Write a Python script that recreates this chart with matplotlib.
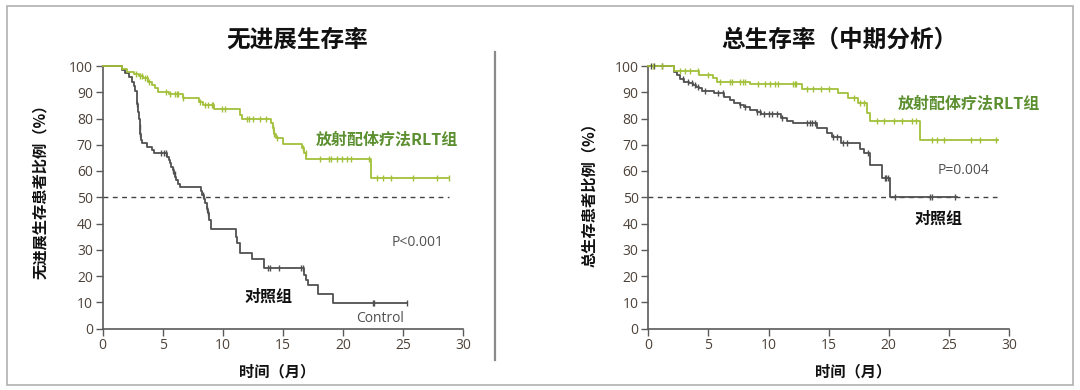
import numpy as np
import matplotlib
matplotlib.use("Agg")
import matplotlib.pyplot as plt
from matplotlib.patches import Rectangle
from matplotlib.lines import Line2D

# ---------------- data ----------------
# Progression-free survival (left)
pfs_rlt_t = [0, 1.6, 2.0, 2.6, 3.0, 3.4, 3.8, 4.1, 4.4, 4.65, 5.5, 6.7, 8.0, 8.4, 9.3,
             11.4, 11.6, 14.0, 14.15, 14.3, 14.45, 15.0, 16.6, 16.75, 16.95, 22.35]
pfs_rlt_s = [100, 98.8, 97.9, 97.0, 96.2, 95.3, 94.0, 92.8, 91.5, 90.2, 89.3, 87.9, 86.4, 85.1, 83.5,
             81.3, 79.8, 78.4, 76.3, 74.2, 72.6, 70.4, 68.7, 66.8, 64.6, 57.2]
pfs_rlt_end = 28.8
pfs_rlt_cens = [2.8, 3.1, 3.3, 3.5, 3.7, 3.9, 5.3, 5.6, 6.0, 6.2, 6.3, 6.7, 8.1, 8.5, 8.8, 9.1, 9.2,
                9.9, 10.2, 12.0, 12.2, 12.5, 13.1, 13.6, 14.2, 14.3, 14.5, 16.7, 16.9,
                18.1, 18.8, 19.0, 19.5, 19.9, 20.3, 20.7, 22.2, 22.8, 23.3, 24.0, 25.8, 27.8, 28.8]

pfs_ctl_t = [0, 1.6, 1.9, 2.2, 2.45, 2.6, 2.72, 2.84, 2.9, 2.96, 3.02, 3.08, 3.14, 3.2, 3.28,
             3.7, 4.1, 4.25, 5.35, 5.5, 5.6, 5.72, 5.85, 5.95, 6.05, 6.15, 6.3, 6.45,
             8.2, 8.3, 8.45, 8.55, 8.65, 8.75, 8.85, 9.0, 11.1, 11.2, 11.4, 12.46, 13.46,
             16.8, 16.95, 17.1, 17.9, 19.2]
pfs_ctl_s = [100, 98.5, 97.2, 95.8, 94.0, 92.2, 90.4, 88.3, 85.5, 82.6, 79.8, 76.9, 74.0, 71.9, 70.5,
             69.3, 68.0, 66.7, 65.4, 64.1, 62.9, 61.6, 60.3, 59.0, 57.8, 56.6, 55.2, 53.8,
             52.5, 50.9, 49.3, 47.7, 45.6, 43.9, 41.3, 37.9, 35.0, 32.4, 28.6, 26.5, 22.9,
             20.4, 18.5, 16.6, 13.1, 9.6]
pfs_ctl_end = 25.35
pfs_ctl_cens = [2.9, 3.1, 3.15, 4.9, 5.1, 5.25, 5.9, 6.0, 8.4, 8.7, 8.8,
                13.8, 13.9, 14.7, 16.5, 16.7, 22.5, 22.6, 25.35]

# Overall survival (right)
os_rlt_t = [0, 2.1, 4.2, 5.4, 5.7, 8.45, 12.75, 15.75, 16.6, 17.4, 18.15, 18.4, 22.6]
os_rlt_s = [100, 98.1, 96.6, 95.3, 94.0, 93.0, 91.2, 89.6, 87.7, 85.8, 82.0, 79.0, 71.8]
os_rlt_end = 29.1
os_rlt_cens = [0.4, 1.1, 2.6, 3.05, 3.5, 4.15, 5.0, 6.0, 6.8, 6.95, 7.6, 7.9, 8.05,
               9.15, 9.7, 10.1, 10.5, 10.8, 12.05, 12.2, 12.3, 13.2, 13.7, 14.4, 15.0,
               17.1, 17.6, 17.9, 19.0, 19.6, 20.4, 21.1, 21.9, 22.3,
               23.6, 24.0, 24.6, 26.8, 27.6, 28.9]

os_ctl_t = [0, 2.15, 2.35, 2.6, 3.0, 3.35, 3.7, 3.95, 4.2, 4.45, 5.5, 6.3, 6.8, 7.15, 7.6, 8.0,
            8.45, 9.0, 9.4, 11.0, 11.5, 12.0, 14.0, 14.9, 15.3, 16.0, 17.6, 17.9, 18.4, 19.4, 20.1]
os_ctl_s = [100, 97.8, 96.5, 94.9, 94.0, 93.4, 92.8, 92.1, 91.5, 90.5, 89.6, 88.3, 87.0, 85.8, 85.1, 84.2,
            83.2, 82.6, 81.6, 80.1, 79.0, 78.2, 76.3, 74.5, 73.1, 70.8, 68.3, 66.7, 62.3, 57.5, 50.2]
os_ctl_end = 25.66
os_ctl_cens = [0.2, 0.45, 1.1, 2.9, 3.3, 3.6, 3.9, 4.15, 4.7, 5.8, 6.25, 7.6, 8.05, 9.05, 9.3, 9.6,
               10.0, 10.3, 10.7, 11.1, 13.2, 13.45, 13.6, 13.85, 15.4, 15.7, 16.2, 16.5,
               18.3, 19.7, 19.8, 19.95, 20.5, 23.4, 23.6, 25.5]

x_ticks = [0, 5, 10, 15, 20, 25, 30]
y_ticks = [0, 10, 20, 30, 40, 50, 60, 70, 80, 90, 100]

titles = ["无进展生存率", "总生存率（中期分析）"]
ylabels = ["无进展生存患者比例（%）", "总生存患者比例（%）"]
xlabel = "时间（月）"
rlt_label = "放射配体疗法RLT组"
ctl_label = "对照组"
p_labels = ["P<0.001", "P=0.004"]

# ---------------- style ----------------
GREEN_LINE = "#a2c03a"
GREEN_TEXT = "#5b8f2f"
DARK_LINE = "#505050"
TICK_COL = "#4d4239"
SPINE_COL = "#5a5a5a"
CJK = ["Noto Sans CJK SC", "DejaVu Sans"]
LAT = ["Open Sans", "DejaVu Sans"]

fig = plt.figure(figsize=(10.8, 3.9), dpi=100)
fig.patch.set_facecolor("white")

W, H = 1080, 390
def fx(px):
    return px / W
def fy(py):
    return 1 - py / H

ax_w = 360.7 / W
ax_h = 262.5 / H
ax_b = fy(328.5)
axL = fig.add_axes([fx(102.5), ax_b, ax_w, ax_h])
axR = fig.add_axes([fx(648.3), ax_b, ax_w, ax_h])


def km(ax, t, s, end, cens, color, lw):
    t = np.asarray(t, float)
    s = np.asarray(s, float)
    tt = np.append(t, end)
    ss = np.append(s, s[-1])
    ax.step(tt, ss, where="post", color=color, lw=lw, clip_on=False, zorder=3)
    c = np.asarray(cens, float)
    idx = np.searchsorted(t, c, side="right") - 1
    ax.plot(c, s[idx], ls="none", marker="|", ms=5, mew=1.0, color=color,
            clip_on=False, zorder=4)


def style(ax):
    ax.set_xlim(0, 30)
    ax.set_ylim(0, 100)
    ax.set_xticks(x_ticks)
    ax.set_yticks(y_ticks)
    for sp in ["top", "right"]:
        ax.spines[sp].set_visible(False)
    for sp in ["left", "bottom"]:
        ax.spines[sp].set_color(SPINE_COL)
        ax.spines[sp].set_linewidth(1.2)
    ax.tick_params(axis="both", direction="out", length=5, width=1.0,
                   color=SPINE_COL, labelcolor=TICK_COL, labelsize=10, pad=2)
    for lab in ax.get_xticklabels() + ax.get_yticklabels():
        lab.set_family(LAT)
    ax.patch.set_alpha(0)


# Left panel
style(axL)
axL.plot([0, 28.85], [50, 50], ls=(0, (3.5, 3.2)), color="#444444", lw=1.0, zorder=2, clip_on=False)
km(axL, pfs_ctl_t, pfs_ctl_s, pfs_ctl_end, pfs_ctl_cens, DARK_LINE, 1.3)
km(axL, pfs_rlt_t, pfs_rlt_s, pfs_rlt_end, pfs_rlt_cens, GREEN_LINE, 1.3)
axL.text(17.7, 72.1, rlt_label, color=GREEN_TEXT, fontsize=11.5, fontweight="bold",
         family=CJK, ha="left", va="center", clip_on=False)
axL.text(24.05, 32.6, p_labels[0], color="#505050", fontsize=10, family=LAT,
         ha="left", va="center")
axL.text(11.8, 12.1, ctl_label, color="#111111", fontsize=11.5, fontweight="bold",
         family=CJK, ha="left", va="center")
axL.text(21.1, 3.9, "Control", color="#505050", fontsize=10, family=LAT,
         ha="left", va="center")

# Right panel
style(axR)
axR.plot([0, 29.0], [50, 50], ls=(0, (3.5, 3.2)), color="#444444", lw=1.0, zorder=2, clip_on=False)
km(axR, os_ctl_t, os_ctl_s, os_ctl_end, os_ctl_cens, DARK_LINE, 1.3)
km(axR, os_rlt_t, os_rlt_s, os_rlt_end, os_rlt_cens, GREEN_LINE, 1.3)
axR.text(20.76, 85.7, rlt_label, color=GREEN_TEXT, fontsize=11.5, fontweight="bold",
         family=CJK, ha="left", va="center", clip_on=False)
axR.text(24.1, 60.0, p_labels[1], color="#505050", fontsize=10, family=LAT,
         ha="left", va="center")
axR.text(22.1, 41.9, ctl_label, color="#111111", fontsize=11.5, fontweight="bold",
         family=CJK, ha="left", va="center")

# Titles
fig.text(fx(297), fy(40), titles[0], fontsize=17, fontweight="bold", family=CJK,
         ha="center", va="center", color="#111111")
fig.text(fx(839), fy(40), titles[1], fontsize=17, fontweight="bold", family=CJK,
         ha="center", va="center", color="#111111")

# Axis labels
fig.text(fx(40), fy(188), ylabels[0], fontsize=11, fontweight="bold", family=CJK,
         rotation=90, ha="center", va="center", color="#111111")
fig.text(fx(589), fy(191), ylabels[1], fontsize=11, fontweight="bold", family=CJK,
         rotation=90, ha="center", va="center", color="#111111")
fig.text(fx(277), fy(371), xlabel, fontsize=11, fontweight="bold", family=CJK,
         ha="center", va="center", color="#111111")
fig.text(fx(853), fy(371), xlabel, fontsize=11, fontweight="bold", family=CJK,
         ha="center", va="center", color="#111111")

# Frame and separator
fig.patches.append(Rectangle((fx(6.7), fy(385)), fx(1073) - fx(6.7), fy(5.7) - fy(385),
                             transform=fig.transFigure, fill=False, edgecolor="#b0b0b0",
                             lw=1.2))
fig.lines.append(Line2D([fx(495), fx(495)], [fy(360), fy(51.7)], transform=fig.transFigure,
                        color="#8a8a8a", lw=1.6))

fig.savefig("out.png", dpi=100, facecolor="white")
